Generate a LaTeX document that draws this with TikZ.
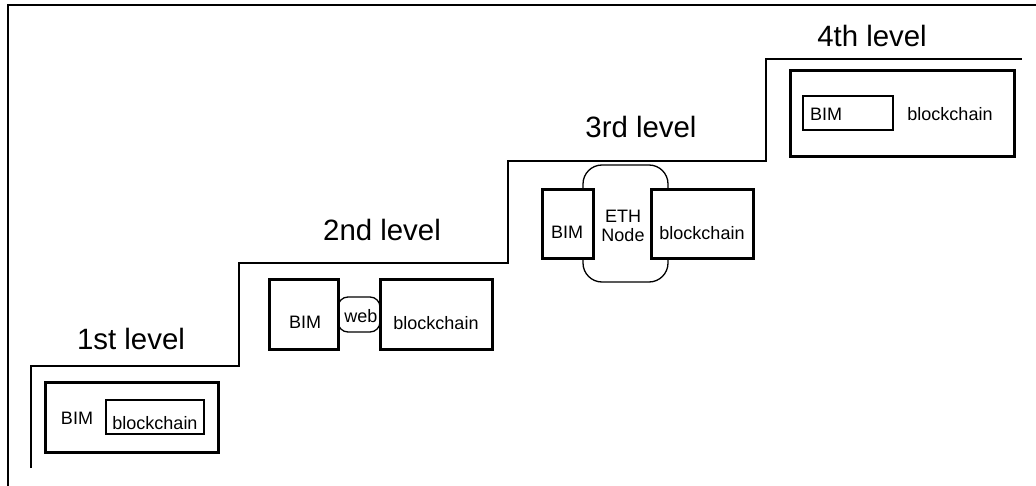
\documentclass[tikz,border=0pt]{standalone}
\usepackage{fontspec}
\setmainfont{Liberation Sans}

\begin{document}
\begin{tikzpicture}[x=1pt,y=-1pt,
  thickbox/.style={draw,line width=3pt,fill=white,inner sep=0pt},
  thinbox/.style={draw,line width=1.6pt,fill=white,inner sep=0pt},
  roundbox/.style={draw,line width=1.3pt,rounded corners=19pt,inner sep=0pt},
  lbl/.style={inner sep=0pt,font=\fontsize{18}{21}\selectfont},
  levellbl/.style={inner sep=0pt,font=\fontsize{29.4}{33}\selectfont}]
\useasboundingbox (0,0) rectangle (1036,486);
\draw[line width=1.4pt] (8,486) -- (8,5) -- (1036,5);
\draw[line width=1.4pt] (31,468) -- (31,366) -- (239,366) -- (239,263) -- (508,263)
  -- (508,161) -- (766,161) -- (766,59) -- (1022,59);

\node[levellbl] (lev1) at (131,339) {1st level};
\node[levellbl] (lev2) at (382,230) {2nd level};
\node[levellbl] (lev3) at (641,127) {3rd level};
\node[levellbl] (lev4) at (872,36) {4th level};

\node[thickbox,minimum width=173pt,minimum height=70pt] (outer1) at (131.5,417) {};
\node[thinbox,minimum width=98pt,minimum height=34pt] (chain1) at (155,417) {};
\node[lbl] (bim1) at (77,418.5) {BIM};
\node[lbl] (chaintxt1) at (155,423) {blockchain};

\node[thickbox,minimum width=69pt,minimum height=69pt] (bim2) at (303.5,314.5) {};
\node[roundbox,rounded corners=10pt,minimum width=42pt,minimum height=35pt] (web2) at (359,314.5) {};
\node[thickbox,minimum width=112pt,minimum height=69pt] (chain2) at (436,314.5) {};
\node[lbl] (bimtxt2) at (305,322) {BIM};
\node[lbl] (webtxt2) at (361,316) {web};
\node[lbl] (chaintxt2) at (436,323) {blockchain};

\node[roundbox,minimum width=85pt,minimum height=117pt] (eth3) at (625.5,223.5) {};
\node[thickbox,minimum width=51pt,minimum height=69pt] (bim3) at (567.5,224.5) {};
\node[thickbox,minimum width=102pt,minimum height=69pt] (chain3) at (702,224.5) {};
\node[lbl,align=center] (ethtxt3) at (623,226) {ETH\\[-2pt]Node};
\node[lbl] (bimtxt3) at (567,232.5) {BIM};
\node[lbl] (chaintxt3) at (702,233) {blockchain};

\node[thickbox,minimum width=224pt,minimum height=86pt] (outer4) at (902,114) {};
\node[thinbox,minimum width=90pt,minimum height=34pt] (bim4) at (848,113) {};
\node[lbl,anchor=west] (bimtxt4) at (810,114) {BIM};
\node[lbl] (chaintxt4) at (950,114) {blockchain};
\end{tikzpicture}
\end{document}
